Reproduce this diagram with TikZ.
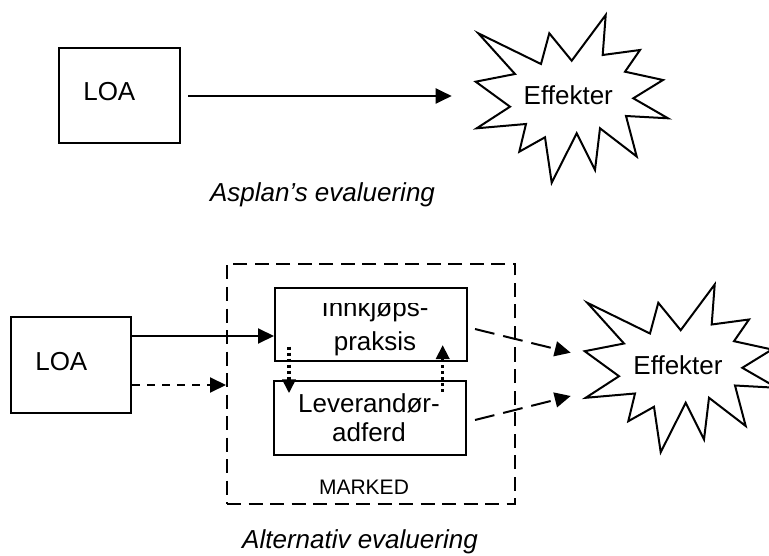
\documentclass[tikz,border=0pt]{standalone}
\usepackage{fontspec}
\setmainfont{Liberation Sans}
\usetikzlibrary{arrows.meta}
\begin{document}
\begin{tikzpicture}[x=1pt,y=-1pt,
  line width=2pt,
  boxnode/.style={draw,rectangle,inner sep=0pt},
  txt/.style={inner sep=0pt,font=\fontsize{26}{30}\selectfont},
  smalltxt/.style={inner sep=0pt,font=\fontsize{21}{25}\selectfont},
  captxt/.style={inner sep=0pt,font=\fontsize{26}{30}\selectfont\itshape},
  tip/.style={-{Triangle[length=16pt,width=15pt]}},
  dotarrow/.style={tip,dash pattern=on 8pt off 7pt},
  thickdot/.style={-{Triangle[length=14pt,width=13pt]},line width=3.5pt,dash pattern=on 3pt off 3pt},
  longdash/.style={tip,dash pattern=on 20pt off 9pt},
  boxdash/.style={dash pattern=on 14pt off 7.5pt}
]
\useasboundingbox (0,0) rectangle (769,556);
\clip (0,0) rectangle (769,556);

% ---------- top part ----------
\node[boxnode,minimum width=121pt,minimum height=95.5pt] (loa1) at (119.5,95.75) {};
\node[txt,anchor=base west] (loa1t) at (82.3,101) {LOA};

\def\burst{(478.3,33.3) -- (541,64) -- (549.3,33.3) -- (571.7,60.7) -- (605.7,15) -- (602.7,55) -- (640,50) -- (625,71.7) -- (663,80) -- (633.3,98.3) -- (668,118.3) -- (626,116) -- (636.7,156.5) -- (600,128.3) -- (595,170) -- (576.7,133.3) -- (551.7,182.7) -- (545,137.3) -- (519.3,151.7) -- (526,124) -- (476.7,128.3) -- (510,106.7) -- (475.7,81.7) -- (515,74) -- cycle}
\draw[line join=miter] \burst;
\node[txt,anchor=base] (eff1) at (568.3,105) {Effekter};
\coordinate (eff1in) at (451.7,96);

\draw[tip] ([xshift=7pt]loa1.east |- eff1in) -- (eff1in);
\node[captxt,anchor=base west] (cap1) at (209,201.7) {Asplan’s evaluering};

% ---------- bottom part ----------
\node[boxnode,minimum width=120pt,minimum height=96pt] (loa2) at (71,365) {};
\node[txt,anchor=base west] (loa2t) at (34.3,370.7) {LOA};

\node[boxnode,boxdash,minimum width=288pt,minimum height=239.5pt] (mk) at (371,383.75) {};
\node[smalltxt,anchor=base] (mkt) at (364,494) {MARKED};

\node[boxnode,minimum width=192pt,minimum height=73pt] (ink) at (371,324.5) {};
\begin{scope}
  \clip (275,303.2) rectangle (467,361);
  \node[txt,anchor=base] (inkt1) at (375,316.7) {Innkjøps-};
\end{scope}
\node[txt,anchor=base] (inkt2) at (375,350.7) {praksis};

\node[boxnode,minimum width=192pt,minimum height=74pt] (lev) at (370,418) {};
\node[txt,anchor=base] (levt1) at (369,412) {Leverandør-};
\node[txt,anchor=base] (levt2) at (369,441.7) {adferd};

\begin{scope}[shift={(109,269.5)}]
  \draw[line join=miter] \burst;
\end{scope}
\node[txt,anchor=base] (eff2) at (678,374) {Effekter};

% connectors
\coordinate (inkin) at (275,336);
\draw[tip] (loa2.east |- inkin) -- (ink.west |- inkin);
\coordinate (mkin) at (227,385);
\draw[dotarrow] (loa2.east |- mkin) -- (mk.west |- mkin);

\coordinate (dn) at (289,346.7);
\draw[thickdot] (dn) -- (dn |- 0,393.3);
\coordinate (up) at (442.7,391.7);
\draw[thickdot] (up) -- (up |- 0,345);

\coordinate (e2a) at (570.7,352.7);
\coordinate (e2b) at (570.7,396);
\draw[longdash] (475,329) -- (e2a);
\draw[longdash] (475,420) -- (e2b);

\node[captxt,anchor=base] (cap2) at (360,548) {Alternativ evaluering};
\end{tikzpicture}
\end{document}
